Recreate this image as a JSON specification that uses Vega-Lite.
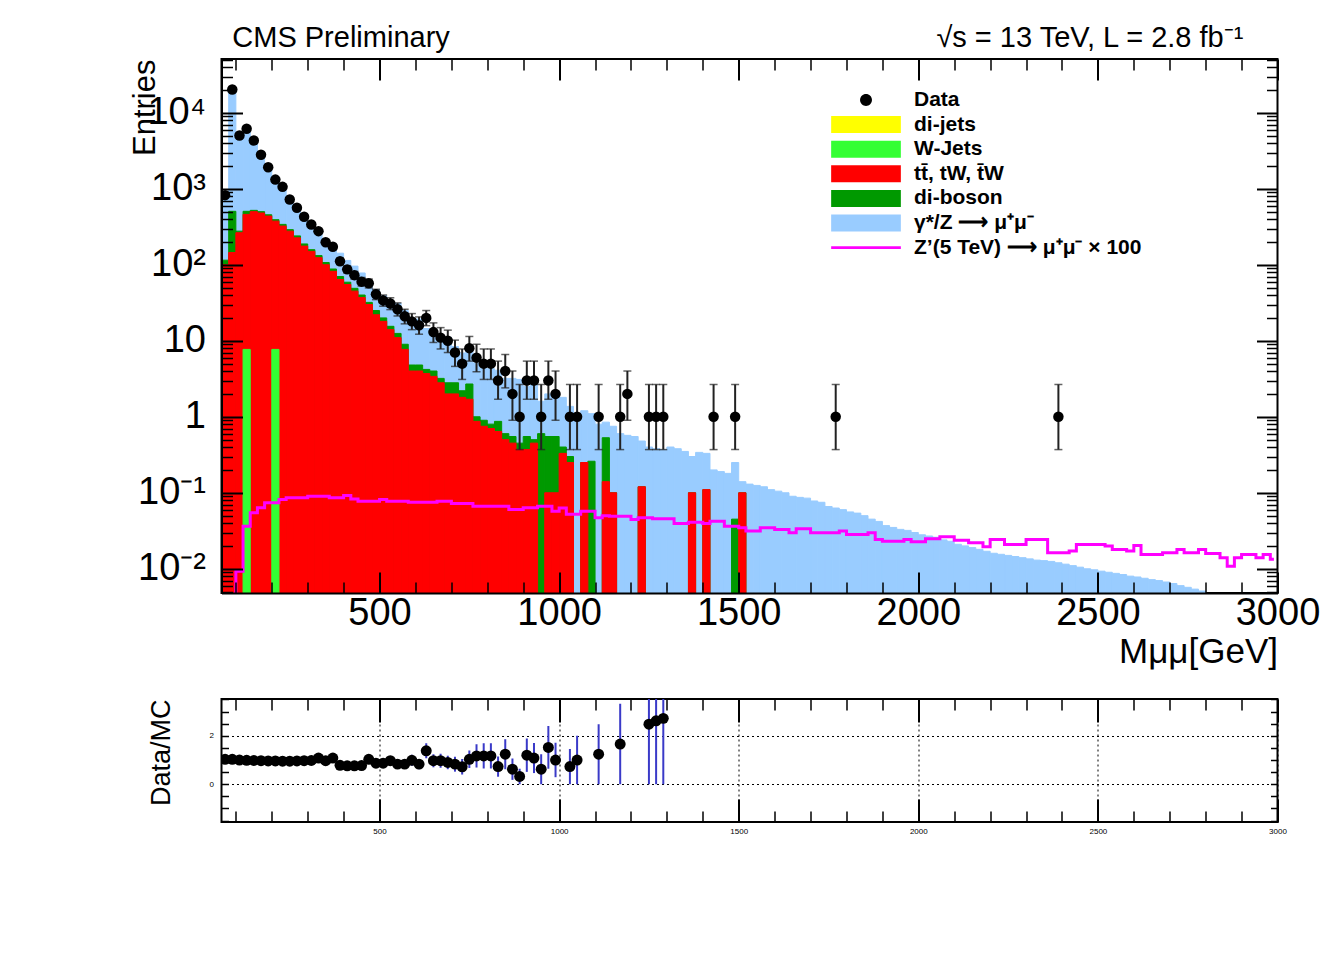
{
"$schema": "https://vega.github.io/schema/vega-lite/v6.json",
"background": "white",
"padding": {"left": 128.5, "top": 23, "right": 0, "bottom": 0},
"config": {
 "view": {"stroke": "black", "strokeWidth": 2},
 "axis": {"labelFont": "Liberation Sans", "titleFont": "Liberation Sans", "labelColor": "black", "titleColor": "black", "tickColor": "black", "domainColor": "black", "titleFontWeight": "normal"},
 "legend": {"labelFont": "Liberation Sans"},
 "text": {"font": "Liberation Sans"}
},
"datasets": {
 "leg": [{"k":"data"},{"k":"dijets"},{"k":"wjets"},{"k":"tt"},{"k":"vv"},{"k":"dy"},{"k":"zp"}],
 "pts": [
 {"m":70,"n":824,"r":1.03},
 {"m":90,"n":20260,"r":1.03},
 {"m":110,"n":5030,"r":1.0},
 {"m":130,"n":6160,"r":0.99},
 {"m":150,"n":4320,"r":0.98},
 {"m":170,"n":2800,"r":0.97},
 {"m":190,"n":1920,"r":0.96},
 {"m":210,"n":1320,"r":0.96},
 {"m":230,"n":1060,"r":0.95},
 {"m":250,"n":723,"r":0.95},
 {"m":270,"n":562,"r":0.96},
 {"m":290,"n":428,"r":0.97},
 {"m":310,"n":339,"r":0.98},
 {"m":330,"n":277,"r":1.08},
 {"m":350,"n":198,"r":0.97},
 {"m":370,"n":173,"r":1.08},
 {"m":390,"n":111,"nlo":100.7,"nhi":121.6,"r":0.78,"rlo":0.71,"rhi":0.85},
 {"m":410,"n":87,"nlo":78,"nhi":96.5,"r":0.76,"rlo":0.68,"rhi":0.84},
 {"m":430,"n":73,"nlo":64.8,"nhi":81.8,"r":0.76,"rlo":0.67,"rhi":0.85},
 {"m":450,"n":60,"nlo":52.5,"nhi":68,"r":0.77,"rlo":0.67,"rhi":0.87},
 {"m":470,"n":57,"nlo":49.6,"nhi":65,"r":1.03,"rlo":0.89,"rhi":1.17},
 {"m":490,"n":41,"nlo":34.8,"nhi":47.6,"r":0.87,"rlo":0.73,"rhi":1.01},
 {"m":510,"n":34,"nlo":28.5,"nhi":40,"r":0.87,"rlo":0.72,"rhi":1.02},
 {"m":530,"n":31,"nlo":25.7,"nhi":36.8,"r":0.97,"rlo":0.8,"rhi":1.14},
 {"m":550,"n":26,"nlo":21.2,"nhi":31.5,"r":0.83,"rlo":0.67,"rhi":0.99},
 {"m":570,"n":21,"nlo":16.7,"nhi":26,"r":0.83,"rlo":0.65,"rhi":1.01},
 {"m":590,"n":18,"nlo":14,"nhi":22.8,"r":0.99,"rlo":0.76,"rhi":1.22},
 {"m":610,"n":16,"nlo":12.2,"nhi":20.6,"r":0.83,"rlo":0.62,"rhi":1.04},
 {"m":630,"n":20,"nlo":15.8,"nhi":25,"r":1.38,"rlo":1.07,"rhi":1.69},
 {"m":650,"n":13,"nlo":9.5,"nhi":17.2,"r":0.97,"rlo":0.7,"rhi":1.24},
 {"m":670,"n":11,"nlo":7.8,"nhi":14.9,"r":0.97,"rlo":0.68,"rhi":1.26},
 {"m":690,"n":10,"nlo":7,"nhi":13.8,"r":0.9,"rlo":0.62,"rhi":1.18},
 {"m":710,"n":7,"nlo":4.6,"nhi":10.2,"r":0.83,"rlo":0.52,"rhi":1.14},
 {"m":730,"n":5,"nlo":3.1,"nhi":7.8,"r":0.72,"rlo":0.4,"rhi":1.04},
 {"m":750,"n":8,"nlo":5.4,"nhi":11.4,"r":1.03,"rlo":0.67,"rhi":1.39},
 {"m":770,"n":6,"nlo":3.9,"nhi":9,"r":1.17,"rlo":0.69,"rhi":1.65},
 {"m":790,"n":5,"nlo":3.1,"nhi":7.8,"r":1.17,"rlo":0.65,"rhi":1.69},
 {"m":810,"n":5,"nlo":3.1,"nhi":7.8,"r":1.17,"rlo":0.65,"rhi":1.69},
 {"m":830,"n":3,"nlo":1.7,"nhi":5.4,"r":0.73,"rlo":0.31,"rhi":1.15},
 {"m":850,"n":4,"nlo":2.4,"nhi":6.6,"r":1.24,"rlo":0.62,"rhi":1.86},
 {"m":870,"n":2,"nlo":0.9,"nhi":4.0,"r":0.62,"rlo":0.18,"rhi":1.06},
 {"m":890,"n":1,"nlo":0.37,"nhi":2.66,"r":0.32,"rlo":0,"rhi":0.64},
 {"m":910,"n":3,"nlo":1.7,"nhi":5.4,"r":1.2,"rlo":0.51,"rhi":1.89},
 {"m":930,"n":3,"nlo":1.7,"nhi":5.4,"r":1.08,"rlo":0.46,"rhi":1.7},
 {"m":950,"n":1,"nlo":0.37,"nhi":2.66,"r":0.62,"rlo":0,"rhi":1.24},
 {"m":970,"n":3,"nlo":1.7,"nhi":5.4,"r":1.52,"rlo":0.64,"rhi":2.4},
 {"m":990,"n":2,"nlo":0.9,"nhi":4.0,"r":1.0,"rlo":0.29,"rhi":1.71},
 {"m":1030,"n":1,"nlo":0.37,"nhi":2.66,"r":0.73,"rlo":0,"rhi":1.46},
 {"m":1050,"n":1,"nlo":0.37,"nhi":2.66,"r":1.0,"rlo":0,"rhi":2.0},
 {"m":1110,"n":1,"nlo":0.37,"nhi":2.66,"r":1.24,"rlo":0,"rhi":2.48},
 {"m":1170,"n":1,"nlo":0.37,"nhi":2.66,"r":1.66,"rlo":0,"rhi":3.32},
 {"m":1190,"n":2,"nlo":0.9,"nhi":4.0},
 {"m":1250,"n":1,"nlo":0.37,"nhi":2.66,"r":2.48,"rlo":0,"rhi":4.96},
 {"m":1270,"n":1,"nlo":0.37,"nhi":2.66,"r":2.62,"rlo":0,"rhi":5.24},
 {"m":1290,"n":1,"nlo":0.37,"nhi":2.66,"r":2.72,"rlo":0,"rhi":5.44},
 {"m":1430,"n":1,"nlo":0.37,"nhi":2.66},
 {"m":1490,"n":1,"nlo":0.37,"nhi":2.66},
 {"m":1770,"n":1,"nlo":0.37,"nhi":2.66},
 {"m":2390,"n":1,"nlo":0.37,"nhi":2.66}
 ],
 "hist": [
 {"lo":60,"hi":80,"m":70,"dy":796,"vv":115,"tt":100},
 {"lo":80,"hi":100,"m":90,"dy":19700,"vv":505,"tt":145,"zp":0.004},
 {"lo":100,"hi":120,"m":110,"dy":5030,"vv":277,"tt":264,"zp":0.0093},
 {"lo":120,"hi":140,"m":130,"dy":6220,"vv":505,"tt":460,"wj":7.7,"zp":0.0364},
 {"lo":140,"hi":160,"m":150,"dy":4410,"vv":520,"tt":500,"zp":0.0546},
 {"lo":160,"hi":180,"m":170,"dy":2890,"vv":500,"tt":480,"zp":0.0635},
 {"lo":180,"hi":200,"m":190,"dy":2000,"vv":455,"tt":437,"zp":0.0738},
 {"lo":200,"hi":220,"m":210,"dy":1375,"vv":392,"tt":375,"wj":7.7,"zp":0.0738},
 {"lo":220,"hi":240,"m":230,"dy":1116,"vv":340,"tt":323,"zp":0.0816},
 {"lo":240,"hi":260,"m":250,"dy":761,"vv":290,"tt":277,"zp":0.0859},
 {"lo":260,"hi":280,"m":270,"dy":585,"vv":240,"tt":226,"zp":0.0859},
 {"lo":280,"hi":300,"m":290,"dy":441,"vv":188,"tt":176,"zp":0.0859},
 {"lo":300,"hi":320,"m":310,"dy":346,"vv":158,"tt":150,"zp":0.09},
 {"lo":320,"hi":340,"m":330,"dy":256,"vv":132,"tt":124,"zp":0.09},
 {"lo":340,"hi":360,"m":350,"dy":204,"vv":107,"tt":100,"zp":0.09},
 {"lo":360,"hi":380,"m":370,"dy":160,"vv":88,"tt":82,"zp":0.0859},
 {"lo":380,"hi":400,"m":390,"dy":142,"vv":70,"tt":64,"zp":0.0859},
 {"lo":400,"hi":420,"m":410,"dy":114,"vv":59,"tt":55,"zp":0.092},
 {"lo":420,"hi":440,"m":430,"dy":96,"vv":49,"tt":45,"zp":0.083},
 {"lo":440,"hi":460,"m":450,"dy":78,"vv":40,"tt":37,"zp":0.0776},
 {"lo":460,"hi":480,"m":470,"dy":55,"vv":32,"tt":30,"zp":0.0776},
 {"lo":480,"hi":500,"m":490,"dy":47,"vv":25,"tt":22,"zp":0.0776},
 {"lo":500,"hi":520,"m":510,"dy":39,"vv":20,"tt":18,"zp":0.0816},
 {"lo":520,"hi":540,"m":530,"dy":32,"vv":15.5,"tt":14,"zp":0.0776},
 {"lo":540,"hi":560,"m":550,"dy":31,"vv":12.5,"tt":11,"zp":0.0776},
 {"lo":560,"hi":580,"m":570,"dy":25,"vv":9,"tt":7.7,"zp":0.0776},
 {"lo":580,"hi":600,"m":590,"dy":18,"vv":4.8,"tt":4,"zp":0.075},
 {"lo":600,"hi":620,"m":610,"dy":19.3,"vv":4.8,"tt":4,"zp":0.075},
 {"lo":620,"hi":640,"m":630,"dy":14.5,"vv":4.2,"tt":3.7,"zp":0.075},
 {"lo":640,"hi":660,"m":650,"dy":13.4,"vv":4,"tt":3.4,"zp":0.075},
 {"lo":660,"hi":680,"m":670,"dy":11.3,"vv":3.2,"tt":2.8,"zp":0.0776},
 {"lo":680,"hi":700,"m":690,"dy":11.1,"vv":2.8,"tt":2,"zp":0.0776},
 {"lo":700,"hi":720,"m":710,"dy":8.4,"vv":2.8,"tt":2,"zp":0.072},
 {"lo":720,"hi":740,"m":730,"dy":6.9,"vv":2.2,"tt":1.8,"zp":0.072},
 {"lo":740,"hi":760,"m":750,"dy":7.8,"vv":2.7,"tt":1.7,"zp":0.072},
 {"lo":760,"hi":780,"m":770,"dy":5.1,"vv":1,"tt":0.87,"zp":0.0667},
 {"lo":780,"hi":800,"m":790,"dy":4.3,"vv":0.9,"tt":0.75,"zp":0.0667},
 {"lo":800,"hi":820,"m":810,"dy":4.3,"vv":0.8,"tt":0.7,"zp":0.0667},
 {"lo":820,"hi":840,"m":830,"dy":4.1,"vv":0.87,"tt":0.64,"zp":0.0667},
 {"lo":840,"hi":860,"m":850,"dy":3.2,"vv":0.6,"tt":0.5,"zp":0.0667},
 {"lo":860,"hi":880,"m":870,"dy":3.2,"vv":0.55,"tt":0.45,"zp":0.0603},
 {"lo":880,"hi":900,"m":890,"dy":3.1,"vv":0.45,"tt":0.37,"zp":0.0603},
 {"lo":900,"hi":920,"m":910,"dy":2.5,"vv":0.55,"tt":0.37,"zp":0.0635},
 {"lo":920,"hi":940,"m":930,"dy":2.8,"vv":0.5,"tt":0.45,"zp":0.0635},
 {"lo":940,"hi":960,"m":950,"dy":1.6,"vv":0.6,"zp":0.0667},
 {"lo":960,"hi":980,"m":970,"dy":2,"vv":0.55,"tt":0.1,"zp":0.0667},
 {"lo":980,"hi":1000,"m":990,"dy":2,"vv":0.55,"tt":0.1,"zp":0.057},
 {"lo":1000,"hi":1020,"m":1010,"dy":1.8,"vv":0.4,"tt":0.33,"zp":0.063},
 {"lo":1020,"hi":1040,"m":1030,"dy":1.37,"vv":0.3,"tt":0.25,"zp":0.052},
 {"lo":1040,"hi":1060,"m":1050,"dy":1,"zp":0.052},
 {"lo":1060,"hi":1080,"m":1070,"dy":1.2,"vv":0.25,"tt":0.25,"zp":0.057},
 {"lo":1080,"hi":1100,"m":1090,"dy":1.1,"vv":0.26,"zp":0.057},
 {"lo":1100,"hi":1120,"m":1110,"dy":0.8,"zp":0.047},
 {"lo":1120,"hi":1140,"m":1130,"dy":0.85,"vv":0.53,"tt":0.14,"zp":0.05},
 {"lo":1140,"hi":1160,"m":1150,"dy":0.75,"vv":0.1,"tt":0.1,"zp":0.049},
 {"lo":1160,"hi":1180,"m":1170,"dy":0.6,"zp":0.049},
 {"lo":1180,"hi":1200,"m":1190,"dy":0.57,"zp":0.049},
 {"lo":1200,"hi":1220,"m":1210,"dy":0.55,"zp":0.0445},
 {"lo":1220,"hi":1240,"m":1230,"dy":0.48,"vv":0.12,"tt":0.12,"zp":0.0468},
 {"lo":1240,"hi":1260,"m":1250,"dy":0.4,"zp":0.0468},
 {"lo":1260,"hi":1280,"m":1270,"dy":0.38,"zp":0.0455},
 {"lo":1280,"hi":1300,"m":1290,"dy":0.37,"zp":0.0455},
 {"lo":1300,"hi":1320,"m":1310,"dy":0.4,"zp":0.0455},
 {"lo":1320,"hi":1340,"m":1330,"dy":0.38,"zp":0.0394},
 {"lo":1340,"hi":1360,"m":1350,"dy":0.35,"zp":0.0394},
 {"lo":1360,"hi":1380,"m":1370,"dy":0.3,"vv":0.1,"tt":0.1,"zp":0.041},
 {"lo":1380,"hi":1400,"m":1390,"dy":0.34,"zp":0.041},
 {"lo":1400,"hi":1420,"m":1410,"dy":0.33,"vv":0.11,"tt":0.11,"zp":0.0394},
 {"lo":1420,"hi":1440,"m":1430,"dy":0.2,"zp":0.0423},
 {"lo":1440,"hi":1460,"m":1450,"dy":0.19,"zp":0.0423},
 {"lo":1460,"hi":1480,"m":1470,"dy":0.18,"zp":0.0364},
 {"lo":1480,"hi":1500,"m":1490,"dy":0.25,"vv":0.045,"zp":0.0364},
 {"lo":1500,"hi":1520,"m":1510,"dy":0.14,"vv":0.1,"tt":0.1,"zp":0.0346},
 {"lo":1520,"hi":1540,"m":1530,"dy":0.13,"zp":0.0313},
 {"lo":1540,"hi":1560,"m":1550,"dy":0.125,"zp":0.0313},
 {"lo":1560,"hi":1580,"m":1570,"dy":0.12,"zp":0.0346},
 {"lo":1580,"hi":1600,"m":1590,"dy":0.11,"zp":0.0346},
 {"lo":1600,"hi":1620,"m":1610,"dy":0.105,"zp":0.0329},
 {"lo":1620,"hi":1640,"m":1630,"dy":0.1,"zp":0.0329},
 {"lo":1640,"hi":1660,"m":1650,"dy":0.09,"zp":0.0297},
 {"lo":1660,"hi":1680,"m":1670,"dy":0.087,"zp":0.0336},
 {"lo":1680,"hi":1700,"m":1690,"dy":0.085,"zp":0.0336},
 {"lo":1700,"hi":1720,"m":1710,"dy":0.078,"zp":0.0297},
 {"lo":1720,"hi":1740,"m":1730,"dy":0.075,"zp":0.0297},
 {"lo":1740,"hi":1760,"m":1750,"dy":0.066,"zp":0.0297},
 {"lo":1760,"hi":1780,"m":1770,"dy":0.063,"zp":0.0297},
 {"lo":1780,"hi":1800,"m":1790,"dy":0.06,"zp":0.0313},
 {"lo":1800,"hi":1820,"m":1810,"dy":0.056,"zp":0.0283},
 {"lo":1820,"hi":1840,"m":1830,"dy":0.054,"zp":0.0283},
 {"lo":1840,"hi":1860,"m":1850,"dy":0.05,"zp":0.0283},
 {"lo":1860,"hi":1880,"m":1870,"dy":0.045,"zp":0.0297},
 {"lo":1880,"hi":1900,"m":1890,"dy":0.042,"zp":0.0243},
 {"lo":1900,"hi":1920,"m":1910,"dy":0.037,"zp":0.0231},
 {"lo":1920,"hi":1940,"m":1930,"dy":0.035,"zp":0.0231},
 {"lo":1940,"hi":1960,"m":1950,"dy":0.033,"zp":0.0231},
 {"lo":1960,"hi":1980,"m":1970,"dy":0.032,"zp":0.0243},
 {"lo":1980,"hi":2000,"m":1990,"dy":0.03,"zp":0.0226},
 {"lo":2000,"hi":2020,"m":2010,"dy":0.028,"zp":0.0226},
 {"lo":2020,"hi":2040,"m":2030,"dy":0.027,"zp":0.0248},
 {"lo":2040,"hi":2060,"m":2050,"dy":0.026,"zp":0.0248},
 {"lo":2060,"hi":2080,"m":2070,"dy":0.024,"zp":0.0263},
 {"lo":2080,"hi":2100,"m":2090,"dy":0.023,"zp":0.0263},
 {"lo":2100,"hi":2120,"m":2110,"dy":0.021,"zp":0.0238},
 {"lo":2120,"hi":2140,"m":2130,"dy":0.02,"zp":0.0238},
 {"lo":2140,"hi":2160,"m":2150,"dy":0.019,"zp":0.022},
 {"lo":2160,"hi":2180,"m":2170,"dy":0.018,"zp":0.022},
 {"lo":2180,"hi":2200,"m":2190,"dy":0.017,"zp":0.0195},
 {"lo":2200,"hi":2220,"m":2210,"dy":0.016,"zp":0.0243},
 {"lo":2220,"hi":2240,"m":2230,"dy":0.0155,"zp":0.0243},
 {"lo":2240,"hi":2260,"m":2250,"dy":0.015,"zp":0.0209},
 {"lo":2260,"hi":2280,"m":2270,"dy":0.0145,"zp":0.0209},
 {"lo":2280,"hi":2300,"m":2290,"dy":0.014,"zp":0.0209},
 {"lo":2300,"hi":2320,"m":2310,"dy":0.0135,"zp":0.0243},
 {"lo":2320,"hi":2340,"m":2330,"dy":0.013,"zp":0.0243},
 {"lo":2340,"hi":2360,"m":2350,"dy":0.0128,"zp":0.0243},
 {"lo":2360,"hi":2380,"m":2370,"dy":0.0125,"zp":0.0162},
 {"lo":2380,"hi":2400,"m":2390,"dy":0.012,"zp":0.0162},
 {"lo":2400,"hi":2420,"m":2410,"dy":0.0115,"zp":0.0162},
 {"lo":2420,"hi":2440,"m":2430,"dy":0.011,"zp":0.0171},
 {"lo":2440,"hi":2460,"m":2450,"dy":0.0105,"zp":0.0209},
 {"lo":2460,"hi":2480,"m":2470,"dy":0.01,"zp":0.0209},
 {"lo":2480,"hi":2500,"m":2490,"dy":0.0097,"zp":0.0209},
 {"lo":2500,"hi":2520,"m":2510,"dy":0.0093,"zp":0.0209},
 {"lo":2520,"hi":2540,"m":2530,"dy":0.009,"zp":0.0199},
 {"lo":2540,"hi":2560,"m":2550,"dy":0.0087,"zp":0.0179},
 {"lo":2560,"hi":2580,"m":2570,"dy":0.0084,"zp":0.0179},
 {"lo":2580,"hi":2600,"m":2590,"dy":0.008,"zp":0.0171},
 {"lo":2600,"hi":2620,"m":2610,"dy":0.0078,"zp":0.0203},
 {"lo":2620,"hi":2640,"m":2630,"dy":0.0075,"zp":0.0154},
 {"lo":2640,"hi":2660,"m":2650,"dy":0.0072,"zp":0.0154},
 {"lo":2660,"hi":2680,"m":2670,"dy":0.007,"zp":0.0154},
 {"lo":2680,"hi":2700,"m":2690,"dy":0.0067,"zp":0.0162},
 {"lo":2700,"hi":2720,"m":2710,"dy":0.0064,"zp":0.0162},
 {"lo":2720,"hi":2740,"m":2730,"dy":0.006,"zp":0.0179},
 {"lo":2740,"hi":2760,"m":2750,"dy":0.0057,"zp":0.0162},
 {"lo":2760,"hi":2780,"m":2770,"dy":0.0054,"zp":0.0162},
 {"lo":2780,"hi":2800,"m":2790,"dy":0.0051,"zp":0.0179},
 {"lo":2800,"hi":2820,"m":2810,"zp":0.0159},
 {"lo":2820,"hi":2840,"m":2830,"zp":0.0159},
 {"lo":2840,"hi":2860,"m":2850,"zp":0.014},
 {"lo":2860,"hi":2880,"m":2870,"zp":0.0108},
 {"lo":2880,"hi":2900,"m":2890,"zp":0.014},
 {"lo":2900,"hi":2920,"m":2910,"zp":0.0154},
 {"lo":2920,"hi":2940,"m":2930,"zp":0.0154},
 {"lo":2940,"hi":2960,"m":2950,"zp":0.014},
 {"lo":2960,"hi":2980,"m":2970,"zp":0.0154},
 {"lo":2980,"hi":3000,"m":2990,"zp":0.0133}
 ]
},
"spacing": 106,
"bounds": "flush",
"resolve": {"scale": {"fill": "independent", "shape": "independent"}, "legend": {"fill": "independent", "shape": "independent"}},
"vconcat": [
 {
  "width": 1056,
  "height": 534,
  "resolve": {"axis": {"x": "independent", "y": "independent"}},
  "layer": [
   {
    "data": {"name": "hist"},
    "mark": {"type": "bar", "clip": true, "color": "#99ccff", "stroke": "#99ccff", "strokeWidth": 1},
    "encoding": {
     "x": {"field": "lo", "type": "quantitative", "scale": {"domain": [60, 3000], "nice": false, "zero": false},
      "axis": {"orient": "bottom", "values": [500, 1000, 1500, 2000, 2500, 3000], "format": "d", "ticks": false, "domain": true, "domainWidth": 2, "grid": false, "zindex": 1, "labelFontSize": 38, "labelPadding": 1, "labelFlush": false, "labelOverlap": false, "title": "Mμμ[GeV]", "titleFontSize": 35, "titleAnchor": "end", "titlePadding": 2}},
     "x2": {"field": "hi"},
     "y": {"field": "dy", "type": "quantitative", "stack": null, "scale": {"type": "log", "domain": [0.0048, 51000], "nice": false},
      "axis": {"orient": "left", "values": [0.01, 0.1, 1, 10, 100, 1000, 10000], "ticks": false, "domain": true, "domainWidth": 2, "grid": false, "zindex": 1, "labelFontSize": 38, "labelPadding": 16,
       "labelExpr": "datum.value == 10000 ? '10⁴' : datum.value == 1000 ? '10³' : datum.value == 100 ? '10²' : datum.value == 10 ? '10' : datum.value == 1 ? '1' : datum.value == 0.1 ? '10⁻¹' : '10⁻²'",
       "title": "Entries", "titleFontSize": 31, "titleAnchor": "end", "titlePadding": -24}},
     "y2": {"datum": 0.001}
    }
   },
   {
    "data": {"name": "hist"},
    "mark": {"type": "bar", "clip": true, "color": "#009900", "stroke": "#009900", "strokeWidth": 1},
    "encoding": {
     "x": {"field": "lo", "type": "quantitative", "axis": null},
     "x2": {"field": "hi"},
     "y": {"field": "vv", "type": "quantitative", "stack": null, "axis": null},
     "y2": {"datum": 0.001}
    }
   },
   {
    "data": {"name": "hist"},
    "mark": {"type": "bar", "clip": true, "color": "#ff0000", "stroke": "#ff0000", "strokeWidth": 1},
    "encoding": {
     "x": {"field": "lo", "type": "quantitative", "axis": null},
     "x2": {"field": "hi"},
     "y": {"field": "tt", "type": "quantitative", "stack": null, "axis": null},
     "y2": {"datum": 0.001}
    }
   },
   {
    "data": {"name": "hist"},
    "mark": {"type": "bar", "clip": true, "color": "#33ff33", "stroke": "#33ff33", "strokeWidth": 1},
    "encoding": {
     "x": {"field": "lo", "type": "quantitative", "axis": null},
     "x2": {"field": "hi"},
     "y": {"field": "wj", "type": "quantitative", "stack": null, "axis": null},
     "y2": {"datum": 0.001}
    }
   },
   {
    "data": {"name": "hist"},
    "mark": {"type": "line", "interpolate": "step", "color": "#ff00ff", "strokeWidth": 3, "clip": true},
    "encoding": {
     "x": {"field": "m", "type": "quantitative", "axis": {"orient": "bottom", "values": [500, 1000, 1500, 2000, 2500, 3000], "labels": false, "domain": false, "grid": false, "tickSize": 21, "tickWidth": 2, "offset": -21, "zindex": 1, "title": null}},
     "y": {"field": "zp", "type": "quantitative", "axis": {"orient": "left", "values": [0.01, 0.1, 1, 10, 100, 1000, 10000], "labels": false, "domain": false, "grid": false, "tickSize": 21, "tickWidth": 2, "offset": -21, "zindex": 1, "title": null}}
    }
   },
   {
    "data": {"name": "pts"},
    "mark": {"type": "rule", "color": "#222222", "strokeWidth": 2, "clip": true},
    "encoding": {
     "x": {"field": "m", "type": "quantitative", "axis": {"orient": "bottom", "values": [100, 200, 300, 400, 600, 700, 800, 900, 1100, 1200, 1300, 1400, 1600, 1700, 1800, 1900, 2100, 2200, 2300, 2400, 2600, 2700, 2800, 2900], "labels": false, "domain": false, "grid": false, "tickSize": 11, "tickWidth": 1.5, "offset": -11, "zindex": 1, "title": null}},
     "y": {"field": "nlo", "type": "quantitative", "axis": {"orient": "left", "values": [0.005, 0.006, 0.007, 0.008, 0.009, 0.02, 0.03, 0.04, 0.05, 0.06, 0.07, 0.08, 0.09, 0.2, 0.3, 0.4, 0.5, 0.6, 0.7, 0.8, 0.9, 2, 3, 4, 5, 6, 7, 8, 9, 20, 30, 40, 50, 60, 70, 80, 90, 200, 300, 400, 500, 600, 700, 800, 900, 2000, 3000, 4000, 5000, 6000, 7000, 8000, 9000, 20000, 30000, 40000, 50000], "labels": false, "domain": false, "grid": false, "tickSize": 11, "tickWidth": 1.5, "offset": -11, "zindex": 1, "title": null}},
     "y2": {"field": "nhi"}
    }
   },
   {
    "data": {"name": "pts"},
    "mark": {"type": "tick", "orient": "horizontal", "size": 8, "thickness": 1.5, "color": "#222222", "clip": true},
    "encoding": {
     "x": {"field": "m", "type": "quantitative", "axis": {"orient": "top", "values": [500, 1000, 1500, 2000, 2500, 3000], "labels": false, "domain": false, "grid": false, "tickSize": 21, "tickWidth": 2, "offset": -21, "zindex": 1, "title": null}},
     "y": {"field": "nlo", "type": "quantitative", "axis": {"orient": "right", "values": [0.01, 0.1, 1, 10, 100, 1000, 10000], "labels": false, "domain": false, "grid": false, "tickSize": 21, "tickWidth": 2, "offset": -21, "zindex": 1, "title": null}}
    }
   },
   {
    "data": {"name": "pts"},
    "mark": {"type": "tick", "orient": "horizontal", "size": 8, "thickness": 1.5, "color": "#222222", "clip": true},
    "encoding": {
     "x": {"field": "m", "type": "quantitative", "axis": {"orient": "top", "values": [100, 200, 300, 400, 600, 700, 800, 900, 1100, 1200, 1300, 1400, 1600, 1700, 1800, 1900, 2100, 2200, 2300, 2400, 2600, 2700, 2800, 2900], "labels": false, "domain": false, "grid": false, "tickSize": 11, "tickWidth": 1.5, "offset": -11, "zindex": 1, "title": null}},
     "y": {"field": "nhi", "type": "quantitative", "axis": {"orient": "right", "values": [0.005, 0.006, 0.007, 0.008, 0.009, 0.02, 0.03, 0.04, 0.05, 0.06, 0.07, 0.08, 0.09, 0.2, 0.3, 0.4, 0.5, 0.6, 0.7, 0.8, 0.9, 2, 3, 4, 5, 6, 7, 8, 9, 20, 30, 40, 50, 60, 70, 80, 90, 200, 300, 400, 500, 600, 700, 800, 900, 2000, 3000, 4000, 5000, 6000, 7000, 8000, 9000, 20000, 30000, 40000, 50000], "labels": false, "domain": false, "grid": false, "tickSize": 11, "tickWidth": 1.5, "offset": -11, "zindex": 1, "title": null}}
    }
   },
   {
    "data": {"name": "pts"},
    "mark": {"type": "circle", "size": 110, "color": "black", "opacity": 1, "clip": true},
    "encoding": {
     "x": {"field": "m", "type": "quantitative", "axis": null},
     "y": {"field": "n", "type": "quantitative", "axis": null}
    }
   },
   {
    "data": {"name": "leg"},
    "mark": {"type": "point", "filled": true, "clip": true, "size": 289, "opacity": 1, "strokeWidth": 0},
    "encoding": {
     "x": {"datum": 100, "type": "quantitative", "axis": null},
     "y": {"datum": 0.0001, "type": "quantitative", "axis": null},
     "fill": {"field": "k", "type": "nominal",
      "scale": {"domain": ["data", "dijets", "wjets", "tt", "vv", "dy", "zp"], "range": ["#000000", "#ffff00", "#33ff33", "#ff0000", "#009900", "#99ccff", "#ff00ff"]},
      "legend": {"title": null, "orient": "none", "legendX": 634, "legendY": 30.5, "direction": "vertical", "padding": 0, "rowPadding": 2.6, "symbolSize": 289, "symbolStrokeWidth": 0, "symbolOpacity": 1, "labelOffset": 37.5, "labelLimit": 0, "labelFontSize": 21, "labelFontWeight": "bold", "labelColor": "black",
       "labelExpr": "datum.label == 'data' ? 'Data' : datum.label == 'dijets' ? 'di-jets' : datum.label == 'wjets' ? 'W-Jets' : datum.label == 'tt' ? 'tt̄, tW, t̄W' : datum.label == 'vv' ? 'di-boson' : datum.label == 'dy' ? 'γ*/Z ⟶ μ⁺μ⁻' : 'Z’(5 TeV) ⟶ μ⁺μ⁻ × 100'"}},
     "shape": {"field": "k", "type": "nominal",
      "scale": {"domain": ["data", "dijets", "wjets", "tt", "vv", "dy", "zp"], "range": ["M-0.7,0A0.7,0.7,0,1,0,0.7,0A0.7,0.7,0,1,0,-0.7,0Z", "M-4.1,-1H4.1V1H-4.1Z", "M-4.1,-1H4.1V1H-4.1Z", "M-4.1,-1H4.1V1H-4.1Z", "M-4.1,-1H4.1V1H-4.1Z", "M-4.1,-1H4.1V1H-4.1Z", "M-4.1,-0.17H4.1V0.17H-4.1Z"]},
      "legend": {"title": null, "orient": "none", "legendX": 634, "legendY": 30.5, "direction": "vertical", "padding": 0, "rowPadding": 2.6, "symbolSize": 289, "symbolStrokeWidth": 0, "symbolOpacity": 1, "labelOffset": 37.5, "labelLimit": 0, "labelFontSize": 21, "labelFontWeight": "bold", "labelColor": "black",
       "labelExpr": "datum.label == 'data' ? 'Data' : datum.label == 'dijets' ? 'di-jets' : datum.label == 'wjets' ? 'W-Jets' : datum.label == 'tt' ? 'tt̄, tW, t̄W' : datum.label == 'vv' ? 'di-boson' : datum.label == 'dy' ? 'γ*/Z ⟶ μ⁺μ⁻' : 'Z’(5 TeV) ⟶ μ⁺μ⁻ × 100'"}}
    }
   },
   {
    "data": {"values": [{}]},
    "mark": {"type": "text", "text": "CMS Preliminary", "align": "left", "baseline": "alphabetic", "fontSize": 29, "color": "black"},
    "encoding": {
     "x": {"datum": 90, "type": "quantitative", "axis": null},
     "y": {"datum": 72400, "type": "quantitative", "axis": null}
    }
   },
   {
    "data": {"values": [{}]},
    "mark": {"type": "text", "text": "√s = 13 TeV, L = 2.8 fb⁻¹", "align": "right", "baseline": "alphabetic", "fontSize": 29, "color": "black"},
    "encoding": {
     "x": {"datum": 2905, "type": "quantitative", "axis": null},
     "y": {"datum": 72400, "type": "quantitative", "axis": null}
    }
   }
  ]
 },
 {
  "width": 1056,
  "height": 123,
  "resolve": {"axis": {"x": "independent", "y": "independent"}},
  "layer": [
   {
    "data": {"name": "pts"},
    "mark": {"type": "rule", "color": "#3a3ac8", "strokeWidth": 2, "clip": true},
    "encoding": {
     "x": {"field": "m", "type": "quantitative", "scale": {"domain": [60, 3000], "nice": false, "zero": false},
      "axis": {"orient": "bottom", "values": [500, 1000, 1500, 2000, 2500, 3000], "format": "d", "ticks": false, "domain": false, "grid": true, "gridColor": "black", "gridDash": [2, 3], "gridWidth": 1, "labelFontSize": 8, "labelPadding": 5, "labelFlush": false, "labelOverlap": false, "title": null}},
     "y": {"field": "rlo", "type": "quantitative", "scale": {"domain": [-1.56, 3.52], "nice": false, "zero": false},
      "axis": {"orient": "left", "values": [0, 2], "format": "d", "ticks": false, "domain": false, "grid": true, "gridColor": "black", "gridDash": [2, 3], "gridWidth": 1, "labelFontSize": 8, "labelPadding": 8, "title": "Data/MC", "titleFontSize": 27, "titleAnchor": "end", "titlePadding": 34}},
     "y2": {"field": "rhi"}
    }
   },
   {
    "data": {"name": "pts"},
    "mark": {"type": "circle", "size": 120, "color": "black", "opacity": 1, "clip": true},
    "encoding": {
     "x": {"field": "m", "type": "quantitative", "axis": {"orient": "bottom", "values": [500, 1000, 1500, 2000, 2500, 3000], "labels": false, "domain": false, "grid": false, "tickSize": 23, "tickWidth": 2, "offset": -23, "zindex": 1, "title": null}},
     "y": {"field": "r", "type": "quantitative", "axis": {"orient": "left", "values": [-1.5, -1, -0.5, 0, 0.5, 1, 1.5, 2, 2.5, 3, 3.5], "labels": false, "domain": false, "grid": false, "tickSize": 7, "tickWidth": 1.5, "offset": -7, "zindex": 1, "title": null}}
    }
   },
   {
    "data": {"name": "pts"},
    "mark": {"type": "circle", "size": 100, "opacity": 0},
    "encoding": {
     "x": {"field": "m", "type": "quantitative", "axis": {"orient": "bottom", "values": [100, 200, 300, 400, 600, 700, 800, 900, 1100, 1200, 1300, 1400, 1600, 1700, 1800, 1900, 2100, 2200, 2300, 2400, 2600, 2700, 2800, 2900], "labels": false, "domain": false, "grid": false, "tickSize": 11, "tickWidth": 1.5, "offset": -11, "zindex": 1, "title": null}},
     "y": {"field": "r", "type": "quantitative", "axis": {"orient": "right", "values": [-1.5, -1, -0.5, 0, 0.5, 1, 1.5, 2, 2.5, 3, 3.5], "labels": false, "domain": false, "grid": false, "tickSize": 7, "tickWidth": 1.5, "offset": -7, "zindex": 1, "title": null}}
    }
   },
   {
    "data": {"name": "pts"},
    "mark": {"type": "circle", "size": 100, "opacity": 0},
    "encoding": {
     "x": {"field": "m", "type": "quantitative", "axis": {"orient": "top", "values": [500, 1000, 1500, 2000, 2500, 3000], "labels": false, "domain": false, "grid": false, "tickSize": 23, "tickWidth": 2, "offset": -23, "zindex": 1, "title": null}},
     "y": {"field": "r", "type": "quantitative", "axis": null}
    }
   },
   {
    "data": {"name": "pts"},
    "mark": {"type": "circle", "size": 100, "opacity": 0},
    "encoding": {
     "x": {"field": "m", "type": "quantitative", "axis": {"orient": "top", "values": [100, 200, 300, 400, 600, 700, 800, 900, 1100, 1200, 1300, 1400, 1600, 1700, 1800, 1900, 2100, 2200, 2300, 2400, 2600, 2700, 2800, 2900], "labels": false, "domain": false, "grid": false, "tickSize": 11, "tickWidth": 1.5, "offset": -11, "zindex": 1, "title": null}},
     "y": {"field": "r", "type": "quantitative", "axis": null}
    }
   }
  ]
 }
]
}
